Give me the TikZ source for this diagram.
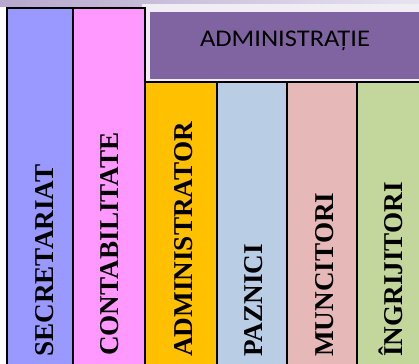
\documentclass[tikz,border=0pt]{standalone}
\usepackage{fontspec}
\setmainfont{Liberation Serif}
\newfontfamily\calfont{Carlito}
\begin{document}
\begin{tikzpicture}[x=1pt,y=-1pt,
  col/.style={draw=black,line width=2pt},
  vlabel/.style={font=\fontsize{27.2}{30}\selectfont\bfseries,rotate=90,anchor=base west,inner sep=0pt}]
\useasboundingbox (0,0) rectangle (419,363);
\fill[white] (0,0) rectangle (419,363);
% top strip
\shade[left color={rgb,255:red,182;green,168;blue,204},right color={rgb,255:red,232;green,226;blue,240}] (0,0) rectangle (419,7);
% panel
\fill[fill={rgb,255:red,240;green,238;blue,244}] (142,4) rectangle (425,82);
\node[fill={rgb,255:red,128;green,100;blue,162},minimum width=275pt,minimum height=67pt,anchor=north west,inner sep=0pt] (adm) at (150,12) {};
\node[font=\calfont\fontsize{26}{30}\selectfont,anchor=base,inner sep=0pt,xscale=1.02,yscale=0.92] (admt) at (285,46.5) {ADMINISTRAȚIE};
% columns
\path[col,fill={rgb,255:red,153;green,153;blue,255}] (7,8) rectangle (73,370);
\path[col,fill={rgb,255:red,255;green,153;blue,255}] (73,8) rectangle (145,370);
\path[col,fill={rgb,255:red,255;green,192;blue,0}] (145,82) rectangle (217,370);
\path[col,fill={rgb,255:red,185;green,205;blue,229}] (217,82) rectangle (287,370);
\path[col,fill={rgb,255:red,230;green,185;blue,184}] (287,82) rectangle (357,370);
\path[col,fill={rgb,255:red,195;green,214;blue,155}] (357,82) rectangle (430,370);
% labels
\node[vlabel] (s) at (53,357) {SECRETARIAT};
\node[vlabel] (c) at (118,356) {CONTABILITATE};
\node[vlabel] (a) at (192,357) {ADMINISTRATOR};
\node[vlabel] (p) at (262,357) {PAZNICI};
\node[vlabel] (m) at (333,357) {MUNCITORI};
\node[vlabel] (i) at (402,357) {ÎNGRIJITORI};
\end{tikzpicture}
\end{document}
